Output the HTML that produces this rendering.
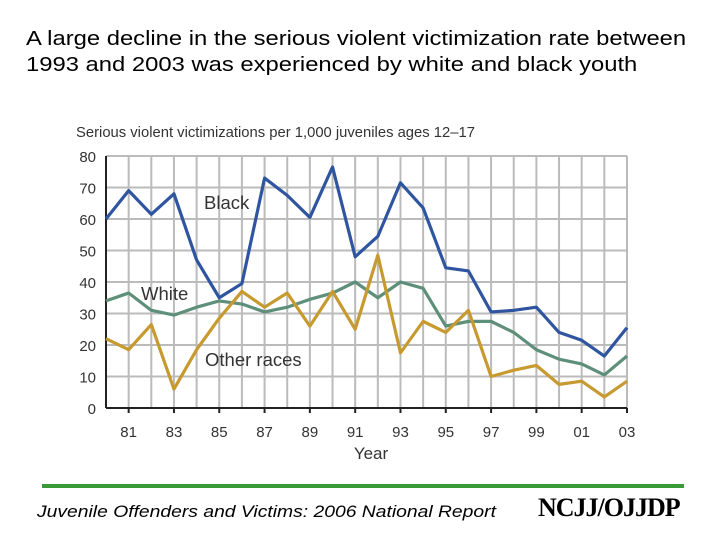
<!DOCTYPE html>
<html><head><meta charset="utf-8"><style>
body{margin:0;width:720px;height:540px;background:#fff;font-family:"Liberation Sans",sans-serif;overflow:hidden;position:relative}
.t{position:absolute;left:26px;top:26px;font-size:20px;line-height:26px;color:#000;transform-origin:0 0;transform:scaleX(1.19);white-space:nowrap}
.f{position:absolute;left:37px;top:503px;font-size:16.5px;font-style:italic;color:#000;transform-origin:0 0;transform:scaleX(1.17);white-space:nowrap}
.logo{position:absolute;left:538px;top:493px;font-size:26px;font-weight:bold;color:#000;letter-spacing:-1px;font-family:"Liberation Serif",serif}
</style></head><body>
<div class="t">A large decline in the serious violent victimization rate between<br>1993 and 2003 was experienced by white and black youth</div>
<svg id="c" width="720" height="540" style="position:absolute;left:0;top:0"></svg>
<div style="position:absolute;left:42px;top:484px;width:642px;height:4px;background:#3a9a3a"></div>
<div class="f">Juvenile Offenders and Victims: 2006 National Report</div>
<div class="logo">NCJJ/OJJDP</div>
<script>
const years=[1980,1981,1982,1983,1984,1985,1986,1987,1988,1989,1990,1991,1992,1993,1994,1995,1996,1997,1998,1999,2000,2001,2002,2003];
const black=[60,69,61.5,68,47,35,39.5,73,67.5,60.5,76.5,48,54.5,71.5,63.5,44.5,43.5,30.5,31,32,24,21.5,16.5,25.5];
const white=[34,36.5,31,29.5,32,34,33,30.5,32,34.5,36.5,40,35,40,38,26,27.5,27.5,24,18.5,15.5,14,10.5,16.5];
const other=[22,18.5,26.5,6,18.5,28.5,37,32,36.5,26,37,25,48.5,17.5,27.5,24,31,10,12,13.5,7.5,8.5,3.5,8.5];
const yTicks=[0,10,20,30,40,50,60,70,80];
const xLabels=["81","83","85","87","89","91","93","95","97","99","01","03"];
const svg=document.getElementById('c');const NS='http://www.w3.org/2000/svg';
const x0=106,x1=627,yb=408,yt=156;
const X=y=>x0+(y-1980)*(x1-x0)/23, Y=v=>yb-v*(yb-yt)/80;
function mk(t,a,p){const e=document.createElementNS(NS,t);for(const k in a)e.setAttribute(k,a[k]);(p||svg).appendChild(e);return e;}
years.forEach(y=>{const l=mk('line',{x1:X(y),x2:X(y),y1:yt,y2:yb,stroke:'#bbb','stroke-width':2});});
yTicks.forEach(v=>{const l=mk('line',{x1:x0,x2:x1,y1:Y(v),y2:Y(v),stroke:v?'#bbb':'#222','stroke-width':2});
const t=mk('text',{x:96,y:Y(v)+6,'text-anchor':'end','font-size':15,fill:'#333'});t.textContent=v;});
mk('line',{x1:x0,x2:x0,y1:yt,y2:yb,stroke:'#222','stroke-width':2});
xLabels.forEach(s=>{const y=+s<50?2000+ +s:1900+ +s;const t=mk('text',{x:X(y),y:437,'text-anchor':'middle','font-size':15,fill:'#333'});t.textContent=s;
mk('line',{x1:X(y),x2:X(y),y1:yb,y2:yb+5,stroke:'#222','stroke-width':2});});
function series(d,c,n){const p=mk('polyline',{points:d.map((v,i)=>X(years[i])+','+Y(v)).join(' '),fill:'none',stroke:c,'stroke-width':3.2,'stroke-linejoin':'round'});}
series(white,'#5e8f7a','white-line');series(other,'#c79a30','other-races-line');series(black,'#2f55a0','black-line');
[['Serious violent victimizations per 1,000 juveniles ages 12–17',76,137,'start','chart-subtitle',14.8],['Black',204,209,'start','label-black',18.5],['White',141,300,'start','label-white',18.5],['Other races',205,366,'start','label-other',18.5],['Year',371,459,'middle','x-axis-title',17]].forEach(a=>{const t=mk('text',{x:a[1],y:a[2],'text-anchor':a[3],'font-size':a[5],fill:'#333'});t.textContent=a[0];});
</script>
</body></html>
